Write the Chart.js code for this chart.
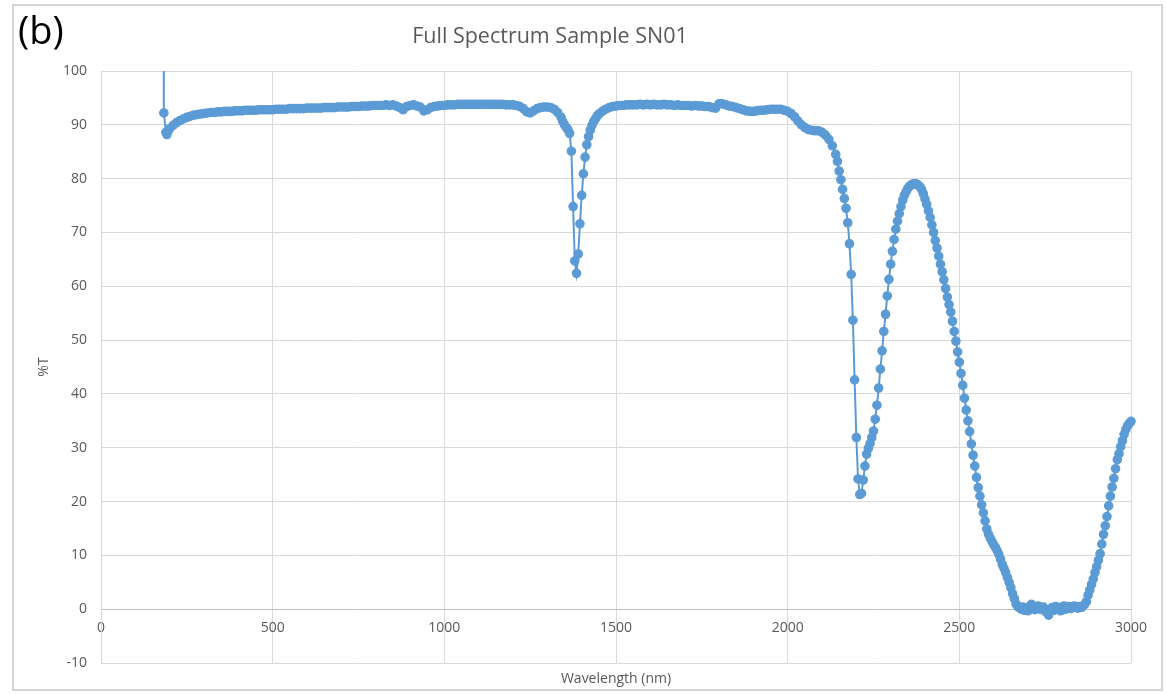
<!DOCTYPE html>
<html>
<head>
<meta charset="utf-8">
<script src="https://cdn.jsdelivr.net/npm/chart.js@4.4.1/dist/chart.umd.min.js"></script>
<style>
  html, body { margin: 0; padding: 0; background: #ffffff; }
  canvas { display: block; }
</style>
</head>
<body>
<canvas id="spectrum" width="1166" height="694"></canvas>
<script>
// ---- Transmittance spectrum of sample SN01, split into wavelength segments ----

// UV cut-on edge (the first reading sits above the axis range)
const edgeNm = [181, 183, 189, 192, 196];
const edgeT  = [140, 92.2, 88.6, 88.2, 88.9];

// visible / near-IR plateau, 200-1340 nm
const visNm = [
  200, 210, 220, 230, 240, 250, 260, 270, 280, 290,
  300, 310, 320, 330, 340, 350, 360, 370, 380, 390,
  400, 410, 420, 430, 440, 450, 460, 470, 480, 490,
  500, 510, 520, 530, 540, 550, 560, 570, 580, 590,
  600, 610, 620, 630, 640, 650, 660, 670, 680, 690,
  700, 710, 720, 730, 740, 750, 760, 770, 780, 790,
  800, 810, 820, 830, 840, 850, 860, 870, 880, 890,
  900, 910, 920, 930, 940, 950, 960, 970, 980, 990,
  1000, 1010, 1020, 1030, 1040, 1050, 1060, 1070, 1080, 1090,
  1100, 1110, 1120, 1130, 1140, 1150, 1160, 1170, 1180, 1190,
  1200, 1210, 1220, 1230, 1240, 1250, 1260, 1270, 1280, 1290,
  1300, 1310, 1320, 1330, 1340
];
const visT = [
  89.3, 89.9, 90.4, 90.8, 91.1, 91.4, 91.6, 91.8, 91.9, 92.0,
  92.1, 92.2, 92.3, 92.3, 92.4, 92.4, 92.5, 92.5, 92.5, 92.6,
  92.6, 92.6, 92.7, 92.7, 92.7, 92.7, 92.8, 92.8, 92.8, 92.8,
  92.8, 92.9, 92.9, 92.9, 92.9, 93.0, 93.0, 93.0, 93.0, 93.0,
  93.1, 93.1, 93.1, 93.1, 93.1, 93.2, 93.2, 93.2, 93.2, 93.3,
  93.3, 93.3, 93.3, 93.4, 93.4, 93.4, 93.5, 93.5, 93.5, 93.6,
  93.6, 93.6, 93.6, 93.7, 93.6, 93.7, 93.5, 93.2, 92.8, 93.4,
  93.6, 93.7, 93.5, 93.3, 92.6, 92.8, 93.2, 93.4, 93.5, 93.6,
  93.6, 93.7, 93.7, 93.7, 93.8, 93.8, 93.8, 93.8, 93.8, 93.8,
  93.8, 93.8, 93.8, 93.8, 93.8, 93.8, 93.8, 93.8, 93.7, 93.7,
  93.7, 93.6, 93.4, 93.0, 92.4, 92.2, 92.6, 93.0, 93.2, 93.3,
  93.3, 93.2, 92.9, 92.3, 91.4
];

// 1.4 um water absorption band
const waterNm = [
  1345, 1350, 1355, 1360, 1365, 1370, 1375, 1380, 1385, 1390,
  1395, 1400, 1405, 1410, 1415, 1420, 1425, 1430, 1435, 1440,
  1445
];
const waterT = [
  90.6, 90.0, 89.5, 89.1, 88.4, 85.1, 74.8, 64.7, 62.4, 66.0,
  71.6, 76.9, 80.9, 84.0, 86.3, 87.8, 89.0, 89.9, 90.6, 91.1,
  91.6
];

// second plateau, 1450-2140 nm
const plateauNm = [
  1450, 1460, 1470, 1480, 1490, 1500, 1510, 1520, 1530, 1540,
  1550, 1560, 1570, 1580, 1590, 1600, 1610, 1620, 1630, 1640,
  1650, 1660, 1670, 1680, 1690, 1700, 1710, 1720, 1730, 1740,
  1750, 1760, 1770, 1780, 1790, 1800, 1810, 1820, 1830, 1840,
  1850, 1860, 1870, 1880, 1890, 1900, 1910, 1920, 1930, 1940,
  1950, 1960, 1970, 1980, 1990, 2000, 2010, 2020, 2030, 2040,
  2050, 2060, 2070, 2080, 2090, 2100, 2110, 2120, 2130, 2140
];
const plateauT = [
  92.0, 92.5, 92.9, 93.2, 93.4, 93.5, 93.6, 93.6, 93.7, 93.7,
  93.7, 93.7, 93.8, 93.7, 93.8, 93.7, 93.8, 93.7, 93.7, 93.8,
  93.7, 93.7, 93.6, 93.7, 93.6, 93.6, 93.6, 93.5, 93.6, 93.5,
  93.5, 93.4, 93.4, 93.2, 93.1, 93.9, 93.9, 93.7, 93.5, 93.4,
  93.2, 93.0, 92.8, 92.6, 92.5, 92.5, 92.6, 92.7, 92.7, 92.8,
  92.9, 92.9, 92.9, 92.9, 92.7, 92.5, 92.1, 91.5, 90.7, 90.0,
  89.5, 89.1, 89.0, 88.9, 88.9, 88.6, 88.1, 87.3, 86.1, 84.5
];

// infrared absorption region, 2145-3000 nm
const irNm = [
  2145, 2150, 2155, 2160, 2165, 2170, 2175, 2180, 2185, 2190,
  2195, 2200, 2205, 2210, 2215, 2220, 2225, 2230, 2235, 2240,
  2245, 2250, 2255, 2260, 2265, 2270, 2275, 2280, 2285, 2290,
  2295, 2300, 2305, 2310, 2315, 2320, 2325, 2330, 2335, 2340,
  2345, 2350, 2355, 2360, 2365, 2370, 2375, 2380, 2385, 2390,
  2395, 2400, 2405, 2410, 2415, 2420, 2425, 2430, 2435, 2440,
  2445, 2450, 2455, 2460, 2465, 2470, 2475, 2480, 2485, 2490,
  2495, 2500, 2505, 2510, 2515, 2520, 2525, 2530, 2535, 2540,
  2545, 2550, 2555, 2560, 2565, 2570, 2575, 2580, 2585, 2590,
  2595, 2600, 2605, 2610, 2615, 2620, 2625, 2630, 2635, 2640,
  2645, 2650, 2655, 2660, 2665, 2670, 2675, 2680, 2685, 2690,
  2695, 2700, 2705, 2710, 2715, 2720, 2725, 2730, 2735, 2740,
  2745, 2750, 2755, 2760, 2765, 2770, 2775, 2780, 2785, 2790,
  2795, 2800, 2805, 2810, 2815, 2820, 2825, 2830, 2835, 2840,
  2845, 2850, 2855, 2860, 2865, 2870, 2875, 2880, 2885, 2890,
  2895, 2900, 2905, 2910, 2915, 2920, 2925, 2930, 2935, 2940,
  2945, 2950, 2955, 2960, 2965, 2970, 2975, 2980, 2985, 2990,
  2995, 3000
];
const irT = [
  83.2, 81.4, 79.8, 78.0, 76.3, 74.5, 71.8, 67.9, 62.2, 53.7,
  42.6, 31.9, 24.2, 21.3, 21.5, 24.0, 26.6, 28.8, 29.9, 30.8,
  31.9, 33.1, 35.3, 37.9, 41.1, 44.6, 48.0, 51.6, 54.8, 58.2,
  61.3, 64.1, 66.5, 68.7, 70.6, 72.1, 73.5, 74.8, 76.0, 76.9,
  77.6, 78.2, 78.6, 78.8, 79.0, 79.1, 79.0, 78.8, 78.5, 78.0,
  77.2, 76.2, 75.2, 74.0, 72.8, 71.4, 70.0, 68.5, 67.1, 65.6,
  64.1, 62.7, 61.2, 59.6, 58.0, 56.6, 55.2, 53.5, 51.6, 49.8,
  47.8, 45.9, 43.8, 41.6, 39.2, 37.0, 35.0, 33.0, 30.7, 28.6,
  26.6, 24.5, 22.6, 21.0, 19.4, 17.9, 16.4, 14.9, 13.9, 13.2,
  12.6, 12.0, 11.5, 10.9, 10.2, 9.3, 8.3, 7.6, 6.8, 5.9,
  5.0, 4.0, 2.9, 2.0, 1.0, 0.5, 0.3, 0.0, 0.4, -0.2,
  0.1, -0.3, 0.5, 0.9, 0.2, -0.1, 0.3, 0.6, 0.0, 0.2,
  0.4, -0.4, -0.3, -1.1, -0.2, 0.3, -0.2, 0.5, 0.1, 0.3,
  -0.3, 0.4, 0.6, 0.0, 0.2, 0.5, 0.1, 0.3, 0.6, 0.4,
  0.2, 0.5, 0.3, 0.6, 0.9, 1.4, 2.6, 3.6, 4.6, 5.6,
  6.8, 7.9, 9.1, 10.3, 12.1, 13.9, 15.5, 17.2, 19.2, 21.0,
  22.7, 24.3, 26.1, 27.8, 28.9, 30.2, 31.3, 32.5, 33.4, 34.1,
  34.5, 34.9
];

// axis tick labels
const xTickLabels = ['0', '500', '1000', '1500', '2000', '2500', '3000'];
const yTickLabels = ['-10', '0', '10', '20', '30', '40', '50', '60', '70', '80', '90', '100'];

const panelLabel = '(b)';
const chartTitle = 'Full Spectrum Sample SN01';
const xTitle = 'Wavelength (nm)';
const yTitle = '%T';

// ---- assemble the series ----
const wavelength = [].concat(edgeNm, visNm, waterNm, plateauNm, irNm);
const transmittance = [].concat(edgeT, visT, waterT, plateauT, irT);
const points = wavelength.map((nm, i) => ({ x: nm, y: transmittance[i] }));

const GRID = '#d9d9d9';
const TEXT = '#595959';
const BLUE = '#5b9bd5';
const FONT = '"Open Sans", "DejaVu Sans", sans-serif';

// white page, outer frame, panel letter and chart title
const framePlugin = {
  id: 'frame',
  beforeDraw(chart) {
    const ctx = chart.ctx;
    ctx.save();
    ctx.fillStyle = '#ffffff';
    ctx.fillRect(0, 0, chart.width, chart.height);
    ctx.strokeStyle = '#d4d4d4';
    ctx.lineWidth = 2;
    ctx.strokeRect(13, 5, 1149, 685);
    ctx.fillStyle = '#000000';
    ctx.font = '38px ' + FONT;
    ctx.textAlign = 'left';
    ctx.textBaseline = 'alphabetic';
    ctx.fillText(panelLabel, 18, 44);
    ctx.fillStyle = TEXT;
    ctx.font = '21.5px ' + FONT;
    ctx.textAlign = 'center';
    ctx.fillText(chartTitle, 550, 43);
    ctx.restore();
  }
};

new Chart(document.getElementById('spectrum'), {
  type: 'scatter',
  data: {
    datasets: [{
      data: points,
      showLine: true,
      borderColor: BLUE,
      backgroundColor: BLUE,
      borderWidth: 2,
      pointRadius: 4.2,
      pointBorderWidth: 1.2,
      pointBorderColor: BLUE,
      pointBackgroundColor: BLUE,
      tension: 0,
      clip: { left: 6, right: 6, top: 0, bottom: 6 }
    }]
  },
  options: {
    responsive: false,
    animation: false,
    devicePixelRatio: 1,
    layout: { padding: { left: 14, right: 35, top: 71, bottom: 0 } },
    plugins: {
      legend: { display: false },
      title: { display: false },
      tooltip: { enabled: false }
    },
    scales: {
      x: {
        type: 'linear',
        position: { y: 0 },
        min: 0,
        max: 3000,
        ticks: {
          stepSize: 500,
          color: TEXT,
          font: { family: FONT, size: 14 },
          padding: 10,
          maxRotation: 0,
          callback: (v) => xTickLabels[Math.round(v / 500)]
        },
        grid: { color: GRID, lineWidth: 1, drawTicks: false },
        border: { display: true, color: '#bfbfbf', width: 1 },
        afterFit(s) { s.paddingLeft = 0; s.paddingRight = 0; }
      },
      x2: {
        type: 'linear',
        axis: 'x',
        position: 'bottom',
        min: 0,
        max: 3000,
        ticks: { display: false },
        grid: { display: false, drawTicks: false },
        border: { display: false },
        title: {
          display: true,
          text: xTitle,
          color: TEXT,
          font: { family: FONT, size: 14 },
          padding: { top: 0, bottom: 7 }
        },
        afterFit(s) { s.height = 31; s.paddingLeft = 0; s.paddingRight = 0; }
      },
      y: {
        type: 'linear',
        position: 'left',
        min: -10,
        max: 100,
        ticks: {
          stepSize: 10,
          color: TEXT,
          font: { family: FONT, size: 14 },
          padding: 14,
          callback: (v) => yTickLabels[Math.round((v + 10) / 10)]
        },
        grid: { color: GRID, lineWidth: 1, drawTicks: false },
        border: { display: true, color: GRID, width: 1 },
        title: {
          display: true,
          text: yTitle,
          color: TEXT,
          font: { family: FONT, size: 14 },
          padding: { top: 22, bottom: 0 }
        },
        afterFit(s) { s.width = 87; s.paddingTop = 0; s.paddingBottom = 0; }
      }
    }
  },
  plugins: [framePlugin]
});
</script>
</body>
</html>
